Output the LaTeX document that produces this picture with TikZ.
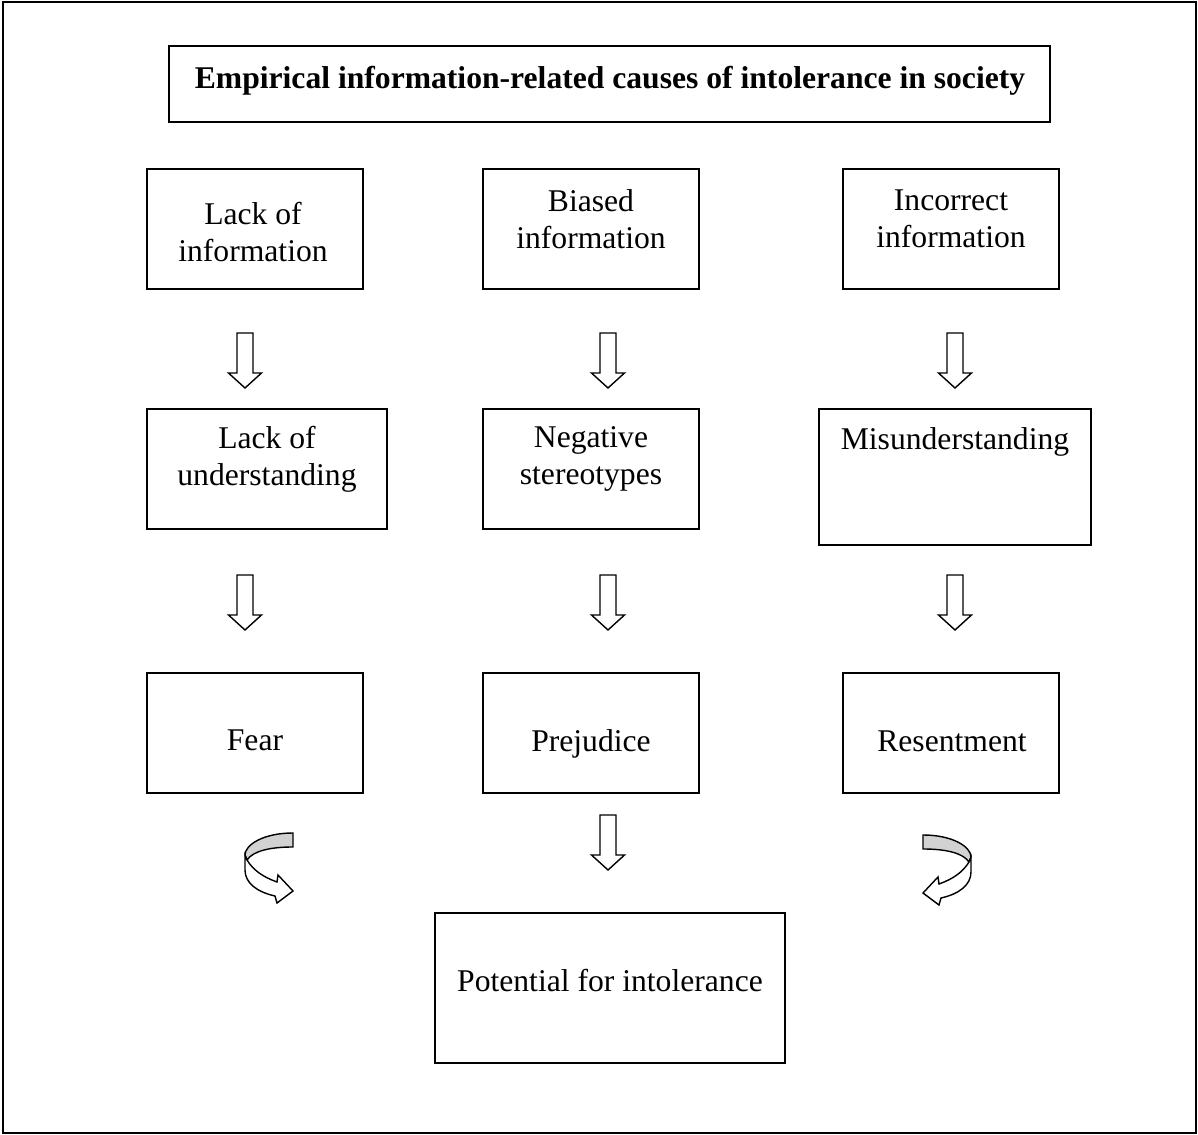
\documentclass[tikz,border=0pt]{standalone}
\usepackage{fontspec}
\setmainfont{Liberation Serif}
\usetikzlibrary{positioning}

\begin{document}
\begin{tikzpicture}[x=0.02cm,y=-0.02cm,
  box/.style={draw,line width=1.1pt},
  txt/.style={align=center,inner sep=0pt,font=\fontsize{18}{21}\selectfont},
  blockarrow/.pic={\draw[line width=0.8pt,fill=white] (-8,0) -- (-8,40) -- (-16.5,40) -- (0,55) -- (16.5,40) -- (8,40) -- (8,0) -- cycle;},
  turnarrow/.pic={
    \draw[line width=0.8pt,fill=gray!35] (48,-22) .. controls (18,-22) and (0,-10) .. (0,0) -- (2,5) .. controls (8,-4) and (25,-8) .. (48,-8) -- cycle;
    \draw[line width=0.8pt,fill=white] (2,5) .. controls (8,15) and (18,22) .. (32,27) -- (33,20) -- (48,36) -- (32,48) -- (30,41) .. controls (12,37) and (0,28) .. (0,15) -- (0,0) -- cycle;}]
  \useasboundingbox (0,0) rectangle (1198,1135);
  \draw[line width=1.6pt] (3,2) rectangle (1196,1133);

  % title
  \draw[line width=1pt] (169,46) rectangle (1050,122);
  \node[txt,font=\fontsize{18}{21}\selectfont\bfseries] (title) at (610,81) {Empirical information-related causes of intolerance in society};

  % information
  \draw[box] (147,169) rectangle (363,289);
  \node[txt] (lackinfo) at (253,232) {Lack of\\information};
  \draw[box] (483,169) rectangle (699,289);
  \node[txt] (biased) at (591,219) {Biased\\information};
  \draw[box] (843,169) rectangle (1059,289);
  \node[txt] (incorrect) at (951,219) {Incorrect\\information};

  \pic at (245,333) {blockarrow};
  \pic at (608,333) {blockarrow};
  \pic at (955,333) {blockarrow};

  % understanding
  \draw[box] (147,409) rectangle (387,529);
  \node[txt] (lackund) at (267,459) {Lack of\\understanding};
  \draw[box] (483,409) rectangle (699,529);
  \node[txt] (negative) at (591,459) {Negative\\stereotypes};
  \draw[box] (819,409) rectangle (1091,545);
  \node[txt] (misund) at (955,442) {Misunderstanding};

  \pic at (245,575) {blockarrow};
  \pic at (608,575) {blockarrow};
  \pic at (955,575) {blockarrow};

  % attitudes
  \draw[box] (147,673) rectangle (363,793);
  \node[txt] (fear) at (255,740) {Fear};
  \draw[box] (483,673) rectangle (699,793);
  \node[txt] (prejudice) at (591,744) {Prejudice};
  \draw[box] (843,673) rectangle (1059,793);
  \node[txt] (resent) at (952,741) {Resentment};

  \pic at (245,855) {turnarrow};
  \pic at (608,815) {blockarrow};
  \pic[xscale=-1] at (971,857) {turnarrow};

  \draw[box] (435,913) rectangle (785,1063);
  \node[txt] (potential) at (610,981) {Potential for intolerance};
\end{tikzpicture}
\end{document}
